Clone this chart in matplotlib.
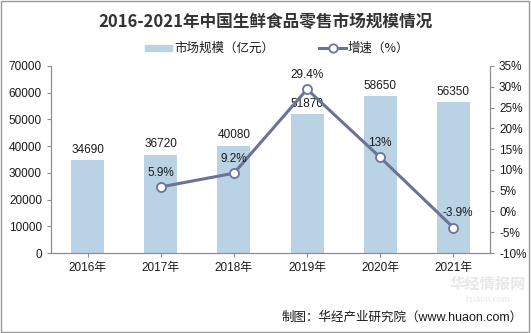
import matplotlib.pyplot as plt
import numpy as np
from matplotlib.patches import Rectangle
from matplotlib.lines import Line2D

plt.rcParams['font.family'] = ['Liberation Sans', 'Noto Sans CJK SC', 'DejaVu Sans']

years = ['2016年', '2017年', '2018年', '2019年', '2020年', '2021年']
market = [34690, 36720, 40080, 51870, 58650, 56350]
growth = [None, 5.9, 9.2, 29.4, 13, -3.9]
growth_labels = ['', '5.9%', '9.2%', '29.4%', '13%', '-3.9%']

bar_color = '#b9d3e5'
line_color = '#6b7397'
axis_color = '#8c8c8c'
text_color = '#1a1a1a'

fig = plt.figure(figsize=(5.31, 3.33), dpi=100)
ax = fig.add_axes([51 / 531, 80 / 333, 439 / 531, 187 / 333])
x = np.arange(len(years))

ax.bar(x, market, width=0.45, color=bar_color, zorder=2)
for xi, v in zip(x, market):
    ax.text(xi, v + 1800, str(v), ha='center', va='bottom', fontsize=8.5, color=text_color)

ax.set_xlim(-0.5, len(years) - 0.5)
ax.set_ylim(0, 70000)
ax.set_yticks(range(0, 70001, 10000))
ax.set_xticks(x)
ax.set_xticklabels(years)
ax.tick_params(labelsize=8.5, colors=text_color, length=3, width=0.8)
ax.tick_params(axis='both', color=axis_color)
ax.spines['top'].set_visible(False)
for side in ['left', 'right', 'bottom']:
    ax.spines[side].set_color(axis_color)

ax2 = ax.twinx()
gx = [xi for xi, g in zip(x, growth) if g is not None]
gy = [g for g in growth if g is not None]
ax2.plot(gx, gy, color=line_color, lw=2.2, marker='o', ms=6.5,
         mfc='white', mec=line_color, mew=1.3, zorder=3)
for xi, g, lab in zip(x, growth, growth_labels):
    if g is not None:
        dx = 3 if g < 0 else 0
        ax2.annotate(lab, (xi, g), xytext=(dx, 6), textcoords='offset points',
                     ha='center', va='bottom', fontsize=8.5, color=text_color)
ax2.set_ylim(-10, 35)
ax2.set_yticks(range(-10, 36, 5))
ax2.set_yticklabels([f'{t}%' for t in range(-10, 36, 5)])
ax2.tick_params(labelsize=8.5, colors=text_color, length=3, width=0.8)
ax2.tick_params(axis='y', color=axis_color)
ax2.spines['top'].set_visible(False)
for side in ['left', 'right', 'bottom']:
    ax2.spines[side].set_color(axis_color)

fig.text(0.5, 1 - 22 / 333, '2016-2021年中国生鲜食品零售市场规模情况', ha='center', va='center',
         fontsize=12, fontweight='bold', color='#333333', family=['Noto Sans CJK SC'])

# legend drawn by hand above the plot
ly = 1 - 48 / 333
fig.patches.append(Rectangle((145 / 531, ly - 3 / 333), 27 / 531, 6 / 333,
                             transform=fig.transFigure, color=bar_color))
fig.text(174 / 531, ly, '市场规模（亿元）', ha='left', va='center', fontsize=9, color=text_color,
         family=['Noto Sans CJK SC'])
fig.lines.append(Line2D([319 / 531, 346 / 531], [ly, ly], transform=fig.transFigure,
                        color=line_color, lw=2.2))
fig.lines.append(Line2D([332.5 / 531], [ly], transform=fig.transFigure, color=line_color,
                        marker='o', ms=6, mfc='white', mew=1.3, lw=0))
fig.text(348 / 531, ly, '增速（%）', ha='left', va='center', fontsize=9, color=text_color,
         family=['Noto Sans CJK SC'])

# faint site watermark
fig.text(488 / 531, 1 - 284 / 333, '华经情报网', ha='center', va='center', fontsize=11,
         fontweight='bold', color='#e8e8e8', zorder=0, family=['Noto Sans CJK SC'])
fig.text(488 / 531, 1 - 300 / 333, 'huaon.com', ha='center', va='center', fontsize=6.5,
         color='#e8e8e8', zorder=0)
fig.text(0.985, 1 - 318 / 333, '制图：华经产业研究院（www.huaon.com）', ha='right', va='center',
         fontsize=9, color=text_color)

fig.patches.append(Rectangle((0.002, 0.003), 0.995, 0.993, transform=fig.transFigure,
                             fill=False, ec='#9a9a9a', lw=1))

fig.savefig('out.png', dpi=100)
